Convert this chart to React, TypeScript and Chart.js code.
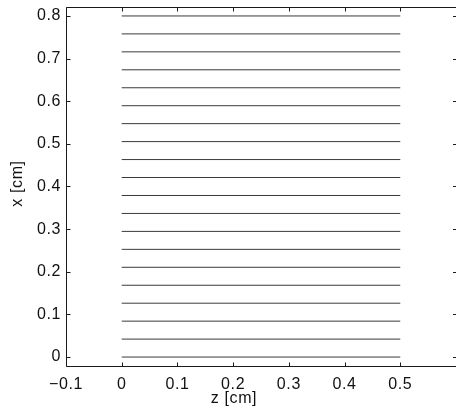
import React, { useEffect, useRef } from "react";
import { Chart, registerables } from "chart.js";

Chart.register(...registerables);

const lineLevels = [
  0, 0.0421, 0.0842, 0.1263, 0.1684, 0.2105, 0.2526, 0.2947, 0.3368, 0.3789,
  0.4211, 0.4632, 0.5053, 0.5474, 0.5895, 0.6316, 0.6737, 0.7158, 0.7579, 0.8,
];
const lineStartZ = 0;
const lineEndZ = 0.5;
const xTickValues = [-0.1, 0, 0.1, 0.2, 0.3, 0.4, 0.5];
const yTickValues = [0, 0.1, 0.2, 0.3, 0.4, 0.5, 0.6, 0.7, 0.8];
const xAxisTitle = "z [cm]";
const yAxisTitle = "x [cm]";

const FONT = "'Liberation Sans', Arial, Helvetica, sans-serif";
const AXIS_COLOR = "#1a1a1a";
const SPACING = "0.6px";

const fmt = (v: number) => {
  const s = String(Math.round(v * 10) / 10);
  return s.startsWith("-") ? "\u2212" + s.slice(1) : s;
};

const boxPlugin = {
  id: "matlabBox",
  beforeDraw(chart: any) {
    try {
      chart.ctx.letterSpacing = SPACING;
    } catch (e) {}
  },
  afterDraw(chart: any) {
    const { ctx, chartArea } = chart;
    const { left, right, top, bottom } = chartArea;
    const xs = chart.scales.x;
    const ys = chart.scales.y;
    const L = Math.round(left) + 0.5;
    const T = Math.round(top) + 0.5;
    const B = Math.round(bottom) + 0.5;
    ctx.save();
    ctx.strokeStyle = AXIS_COLOR;
    ctx.lineWidth = 1;
    ctx.beginPath();
    ctx.moveTo(right + 2, T);
    ctx.lineTo(L, T);
    ctx.lineTo(L, B);
    ctx.lineTo(right + 2, B);
    ctx.stroke();
    const tl = 4;
    ctx.beginPath();
    for (const v of xTickValues) {
      const px = Math.round(xs.getPixelForValue(v)) + 0.5;
      ctx.moveTo(px, B);
      ctx.lineTo(px, B - tl);
      ctx.moveTo(px, T);
      ctx.lineTo(px, T + tl);
    }
    for (const v of yTickValues) {
      const py = Math.round(ys.getPixelForValue(v)) + 0.5;
      ctx.moveTo(L, py);
      ctx.lineTo(L + tl, py);
      ctx.moveTo(right + 1, py);
      ctx.lineTo(right + 1 - tl, py);
    }
    ctx.stroke();
    // axis titles
    ctx.fillStyle = "#111";
    ctx.font = `16px ${FONT}`;
    ctx.textAlign = "center";
    ctx.textBaseline = "middle";
    ctx.fillText(xAxisTitle, 234, 399);
    ctx.translate(18, (top + bottom) / 2 - 3);
    ctx.rotate(-Math.PI / 2);
    ctx.fillText(yAxisTitle, 0, 0);
    ctx.restore();
  },
};

export default function App() {
  const canvasRef = useRef<HTMLCanvasElement | null>(null);

  useEffect(() => {
    document.body.style.margin = "0";
    document.body.style.overflow = "hidden";
    const canvas = canvasRef.current;
    if (!canvas) return;
    const datasets = lineLevels.map((lvl) => ({
      data: [
        { x: lineStartZ, y: lvl },
        { x: lineEndZ, y: lvl },
      ],
      borderColor: "#3a3a3a",
      borderWidth: 1,
      pointRadius: 0,
      fill: false,
    }));
    const chart = new Chart(canvas, {
      type: "line",
      data: { datasets },
      plugins: [boxPlugin],
      options: {
        animation: false,
        responsive: false,
        devicePixelRatio: 1,
        layout: { padding: { top: 7, right: 0, left: 0, bottom: 0 } },
        plugins: { legend: { display: false }, tooltip: { enabled: false } },
        scales: {
          x: {
            type: "linear",
            min: -0.1,
            max: 0.6,
            afterBuildTicks: (s: any) => {
              s.ticks = xTickValues.map((v) => ({ value: v }));
            },
            afterFit: (s: any) => {
              s.height = 46;
              s.paddingLeft = 0;
              s.paddingRight = 0;
            },
            grid: { display: false, drawTicks: false },
            border: { display: false },
            ticks: {
              padding: 9,
              maxRotation: 0,
              autoSkip: false,
              color: "#111",
              font: { family: FONT, size: 16 },
              callback: (v: any) => fmt(Number(v)),
            },
          },
          y: {
            type: "linear",
            min: -0.021,
            max: 0.821,
            afterBuildTicks: (s: any) => {
              s.ticks = yTickValues.map((v) => ({ value: v }));
            },
            afterFit: (s: any) => {
              s.width = 66;
              s.paddingTop = 0;
              s.paddingBottom = 0;
            },
            grid: { display: false, drawTicks: false },
            border: { display: false },
            ticks: {
              padding: 5,
              autoSkip: false,
              color: "#111",
              font: { family: FONT, size: 16 },
              callback: (v: any) => fmt(Number(v)),
            },
          },
        },
      },
    });
    return () => chart.destroy();
  }, []);

  return (
    <div style={{ position: "fixed", left: 0, top: 0, width: 456, height: 412, background: "#fff" }}>
      <canvas ref={canvasRef} width={456} height={412} />
    </div>
  );
}
